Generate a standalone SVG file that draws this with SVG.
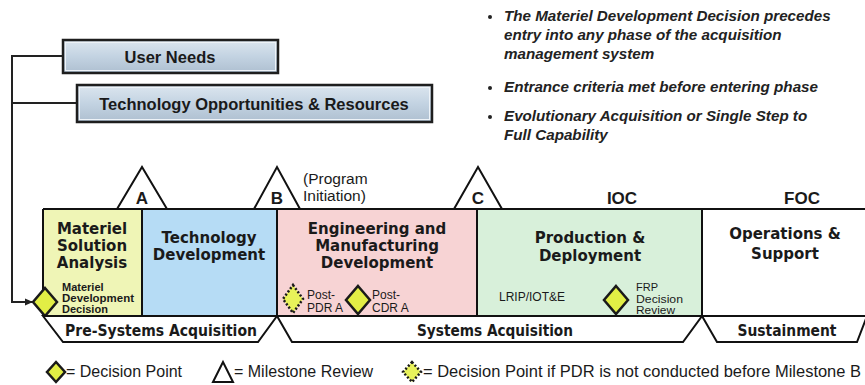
<svg xmlns="http://www.w3.org/2000/svg" width="865" height="385" viewBox="0 0 865 385">
<defs>
<linearGradient id="boxg" x1="0" y1="0" x2="0" y2="1">
<stop offset="0" stop-color="#dce6ef"/>
<stop offset="0.5" stop-color="#c3d3e2"/>
<stop offset="1" stop-color="#aebfd0"/>
</linearGradient>
<marker id="arr" markerWidth="8" markerHeight="8" refX="7" refY="4" orient="auto" markerUnits="userSpaceOnUse">
<path d="M0,0.5 L8,4 L0,7.5 Z" fill="#222"/>
</marker>
</defs>
<style>
.top{fill:url(#boxg);stroke:#1e1e1e;stroke-width:2.5}
.inner{fill:none;stroke:#eef3f8;stroke-width:1}
.tb{font-family:"Liberation Sans",Arial,sans-serif;font-weight:bold;font-size:16.5px;fill:#1a1a1a;text-anchor:middle}
.bul{font-family:"Liberation Sans",Arial,sans-serif;font-weight:bold;font-style:italic;font-size:15.2px;fill:#222}
.ph{font-family:"DejaVu Sans",Verdana,sans-serif;font-weight:bold;font-size:15px;fill:#1a1a1a;text-anchor:middle}
.sm{font-family:"Liberation Sans",Arial,sans-serif;font-size:12px;fill:#1a1a1a}
.tiny{font-family:"Liberation Sans",Arial,sans-serif;font-size:11px;fill:#1a1a1a}
.smb{font-family:"Liberation Sans",Arial,sans-serif;font-weight:bold;font-size:11px;fill:#1a1a1a}
.ms{font-family:"Liberation Sans",Arial,sans-serif;font-weight:bold;font-size:17px;fill:#1a1a1a;text-anchor:middle}
.pi{font-family:"Liberation Sans",Arial,sans-serif;font-size:15.5px;fill:#1a1a1a}
.lg{font-family:"Liberation Sans",Arial,sans-serif;font-size:16px;fill:#1a1a1a}
.line{fill:none;stroke:#222;stroke-width:2}
.tri{fill:#fff;stroke:#111;stroke-width:2;stroke-linejoin:miter}
.dia{fill:#e2ee45;stroke:#1a1a1a;stroke-width:2.5;stroke-linejoin:miter}
.diad{fill:#e8f25a;stroke:#1a1a1a;stroke-width:2.5;stroke-dasharray:2 2}
.band{fill:#fff;stroke:#111;stroke-width:2;stroke-linejoin:miter}
.col{stroke:#111;stroke-width:2}
</style>
<rect width="865" height="385" fill="#ffffff"/>

<g id="connectors">
<path class="line" d="M63,56 H12 V302 H32" marker-end="url(#arr)"/>
<path class="line" d="M12,103 H77"/>
</g>

<g id="user-needs">
<rect class="top" x="63" y="40" width="215" height="33"/>
<rect class="inner" x="65.5" y="42.5" width="210" height="28"/>
<text class="tb" x="170" y="62.5">User Needs</text>
</g>

<g id="tech-opportunities">
<rect class="top" x="77" y="85" width="355" height="37"/>
<rect class="inner" x="79.5" y="87.5" width="350" height="32"/>
<text class="tb" x="254" y="109.5">Technology Opportunities &amp; Resources</text>
</g>

<g id="bullets">
<circle cx="490" cy="17" r="2" fill="#222"/>
<text class="bul" x="504" y="21">The Materiel Development Decision precedes</text>
<text class="bul" x="504" y="40">entry into any phase of the acquisition</text>
<text class="bul" x="504" y="59">management system</text>
<circle cx="490" cy="88" r="2" fill="#222"/>
<text class="bul" x="504" y="92">Entrance criteria met before entering phase</text>
<circle cx="490" cy="117" r="2" fill="#222"/>
<text class="bul" x="504" y="121">Evolutionary Acquisition or Single Step to</text>
<text class="bul" x="504" y="140">Full Capability</text>
</g>

<g id="phase-msa">
<rect x="43" y="209" width="99" height="107" fill="#eff5b6"/>
<text class="ph" x="92" y="234">Materiel</text>
<text class="ph" x="92" y="251">Solution</text>
<text class="ph" x="92" y="268">Analysis</text>
<text class="smb" x="62" y="291">Materiel</text>
<text class="smb" x="62" y="302" textLength="72" lengthAdjust="spacingAndGlyphs">Development</text>
<text class="smb" x="62" y="313">Decision</text>
</g>

<g id="phase-td">
<rect x="142" y="209" width="135" height="107" fill="#b6dcf5"/>
<text class="ph" x="209" y="243" font-size="16">Technology</text>
<text class="ph" x="209" y="260" font-size="16">Development</text>
</g>

<g id="phase-emd">
<rect x="277" y="209" width="200" height="107" fill="#f7d3d4"/>
<text class="ph" x="377" y="234">Engineering and</text>
<text class="ph" x="377" y="251">Manufacturing</text>
<text class="ph" x="377" y="268">Development</text>
<text class="sm" x="307" y="299">Post-</text>
<text class="sm" x="307" y="312">PDR A</text>
<text class="sm" x="372" y="299">Post-</text>
<text class="sm" x="372" y="312">CDR A</text>
</g>

<g id="phase-pd">
<rect x="477" y="209" width="225" height="107" fill="#d8f0da"/>
<text class="ph" x="590" y="243">Production &amp;</text>
<text class="ph" x="590" y="261">Deployment</text>
<text class="sm" x="499" y="301" font-size="14.5">LRIP/IOT&amp;E</text>
<text class="tiny" x="636" y="291">FRP</text>
<text class="tiny" x="636" y="302.5" textLength="47" lengthAdjust="spacingAndGlyphs">Decision</text>
<text class="tiny" x="636" y="314" textLength="39" lengthAdjust="spacingAndGlyphs">Review</text>
</g>

<g id="phase-os">
<rect x="702" y="209" width="165" height="107" fill="#ffffff"/>
<text class="ph" x="785" y="239">Operations &amp;</text>
<text class="ph" x="785" y="259">Support</text>
</g>

<g id="frame">
<path class="col" d="M43,209 H867 M43,316 H867 M43,209 V316 M142,209 V316 M277,209 V316 M477,209 V316 M702,209 V316" fill="none"/>
</g>

<g id="milestone-a">
<polygon class="tri" points="117,209 142,167 167,209"/>
<text class="ms" x="142" y="204">A</text>
</g>
<g id="milestone-b">
<polygon class="tri" points="254,209 277,167 300,209"/>
<text class="ms" x="277" y="204">B</text>
<text class="pi" x="303" y="184">(Program</text>
<text class="pi" x="303" y="201">Initiation)</text>
</g>
<g id="milestone-c">
<polygon class="tri" points="454,209 478,167 502,209"/>
<text class="ms" x="478" y="204">C</text>
</g>
<g id="ioc">
<text class="ms" x="622" y="204" font-size="20">IOC</text>
</g>
<g id="foc">
<text class="ms" x="802" y="204" font-size="20">FOC</text>
</g>

<g id="decision-mdd">
<polygon class="dia" points="45,288 57,302 45,316 33,302"/>
</g>
<g id="decision-post-pdr">
<polygon class="diad" points="293,285 303,299 293,313 283,299"/>
</g>
<g id="decision-post-cdr">
<polygon class="dia" points="358,286 370,300 358,314 346,300"/>
</g>
<g id="decision-frp">
<polygon class="dia" points="616,286 628,300 616,314 604,300"/>
</g>

<g id="band-pre">
<polygon class="band" points="43,316 63,342 258,342 277,316"/>
<text class="ph" x="161" y="336" font-size="14" textLength="192" lengthAdjust="spacingAndGlyphs">Pre-Systems Acquisition</text>
</g>
<g id="band-systems">
<polygon class="band" points="277,316 292,342 683,342 702,316"/>
<text class="ph" x="495" y="336" font-size="14" textLength="156" lengthAdjust="spacingAndGlyphs">Systems Acquisition</text>
</g>
<g id="band-sustain">
<polygon class="band" points="702,316 717,342 857,342 867,316"/>
<text class="ph" x="787" y="336" font-size="14" textLength="99" lengthAdjust="spacingAndGlyphs">Sustainment</text>
</g>

<g id="legend">
<polygon class="dia" points="56,362 65,372 56,382 47,372" stroke-width="2"/>
<text class="lg" x="66" y="377">= Decision Point</text>
<polygon class="tri" points="213,382 223,362 233,382" stroke-width="1.5"/>
<text class="lg" x="234" y="377">= Milestone Review</text>
<polygon class="diad" points="412,362 421,372 412,382 403,372" stroke-width="2"/>
<text class="lg" x="423" y="377" textLength="438" lengthAdjust="spacingAndGlyphs">= Decision Point if PDR is not conducted before Milestone B</text>
</g>
</svg>
